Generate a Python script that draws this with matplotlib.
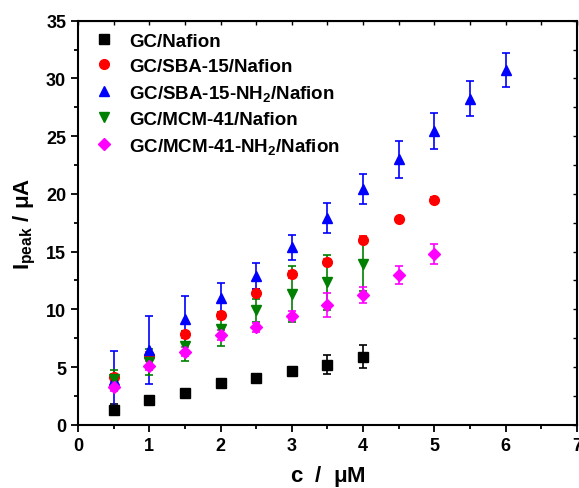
import numpy as np
import matplotlib
matplotlib.use('Agg')
import matplotlib.pyplot as plt
from matplotlib.ticker import MultipleLocator

plt.rcParams['font.family'] = 'Liberation Sans'
plt.rcParams['font.weight'] = 'bold'
plt.rcParams['mathtext.fontset'] = 'custom'
plt.rcParams['mathtext.rm'] = 'Liberation Sans:bold'
plt.rcParams['mathtext.it'] = 'Liberation Sans:bold'
plt.rcParams['mathtext.bf'] = 'Liberation Sans:bold'

# data
c_nafion = [0.5, 1.0, 1.5, 2.0, 2.5, 3.0, 3.5, 4.0]
i_nafion = [1.30, 2.11, 2.77, 3.64, 4.07, 4.62, 5.20, 5.89]
e_nafion = [0.5, 0.2, 0.2, 0.2, 0.2, 0.2, 0.8, 1.0]

c_sba = [0.5, 1.0, 1.5, 2.0, 2.5, 3.0, 3.5, 4.0, 4.5, 5.0]
i_sba = [4.10, 5.97, 7.83, 9.47, 11.43, 13.02, 14.10, 16.02, 17.78, 19.50]
e_sba = [0.3, 0.3, 0.3, 0.3, 0.3, 0.3, 0.3, 0.3, 0.2, 0.2]

c_sba_nh2 = [0.5, 1.0, 1.5, 2.0, 2.5, 3.0, 3.5, 4.0, 4.5, 5.0, 5.5, 6.0]
i_sba_nh2 = [3.85, 6.50, 9.15, 10.94, 12.90, 15.36, 17.90, 20.40, 23.00, 25.45, 28.26, 30.74]
e_sba_nh2 = [2.5, 2.95, 2.0, 1.3, 1.1, 1.1, 1.3, 1.3, 1.6, 1.55, 1.55, 1.5]

c_mcm = [0.5, 1.0, 1.5, 2.0, 2.5, 3.0, 3.5, 4.0]
i_mcm = [3.96, 5.45, 6.79, 8.29, 9.93, 11.34, 12.33, 13.90]
e_mcm = [0.8, 1.1, 1.3, 1.45, 1.0, 2.45, 2.4, 2.3]

c_mcm_nh2 = [0.5, 1.0, 1.5, 2.0, 2.5, 3.0, 3.5, 4.0, 4.5, 5.0]
i_mcm_nh2 = [3.29, 5.10, 6.32, 7.77, 8.43, 9.44, 10.36, 11.23, 12.96, 14.78]
e_mcm_nh2 = [0.4, 0.4, 0.4, 0.4, 0.4, 0.4, 1.07, 0.7, 0.8, 0.85]

series = [
    (c_nafion, i_nafion, e_nafion, 's', 'black', 'GC/Nafion'),
    (c_sba, i_sba, e_sba, 'o', 'red', 'GC/SBA-15/Nafion'),
    (c_sba_nh2, i_sba_nh2, e_sba_nh2, '^', 'blue', r'GC/SBA-15-NH$_2$/Nafion'),
    (c_mcm, i_mcm, e_mcm, 'v', 'green', 'GC/MCM-41/Nafion'),
    (c_mcm_nh2, i_mcm_nh2, e_mcm_nh2, 'D', 'magenta', r'GC/MCM-41-NH$_2$/Nafion'),
]

fig = plt.figure(figsize=(5.79, 4.89), dpi=100)
ax = fig.add_axes([0.1347, 0.1294, 0.8618, 0.8262])

for x, y, e, m, col, lab in series:
    ms = 6 if m == 'D' else 7
    ax.errorbar(x, y, yerr=e, fmt=m, color=col, ecolor=col, markersize=ms,
                capsize=3, elinewidth=1.2, capthick=1.2, label=lab, zorder=3)

ax.set_xlim(0, 7)
ax.set_ylim(0, 35)
ax.xaxis.set_major_locator(MultipleLocator(1))
ax.xaxis.set_minor_locator(MultipleLocator(0.5))
ax.yaxis.set_major_locator(MultipleLocator(5))
ax.yaxis.set_minor_locator(MultipleLocator(2.5))
ax.tick_params(which='major', direction='out', length=5, width=1.3, labelsize=13)
ax.tick_params(which='minor', direction='out', length=3, width=1.3)
for s in ax.spines.values():
    s.set_linewidth(1.5)

ax2 = ax.secondary_xaxis('top')
ax2.xaxis.set_major_locator(MultipleLocator(0.5))
ax2.tick_params(direction='in', length=3, width=1.0, labeltop=False)
ax3 = ax.secondary_yaxis('right')
ax3.yaxis.set_major_locator(MultipleLocator(2.5))
ax3.tick_params(direction='in', length=3, width=1.0, labelright=False)

ax.set_xlabel(r'c  /  $\mu$M', fontsize=16, fontweight='bold', labelpad=7)
ax.set_ylabel(r'I$_{\mathrm{peak}}$ / $\mu$A', fontsize=16, fontweight='bold', labelpad=6)

handles, labels = ax.get_legend_handles_labels()
handles = [h[0] for h in handles]
ax.legend(handles, labels, loc='upper left', bbox_to_anchor=(-0.01, 1.012),
          frameon=False, fontsize=13.5, handletextpad=0.6, labelspacing=0.42,
          handlelength=1.5)

plt.savefig('out.png', dpi=100)
plt.close()
